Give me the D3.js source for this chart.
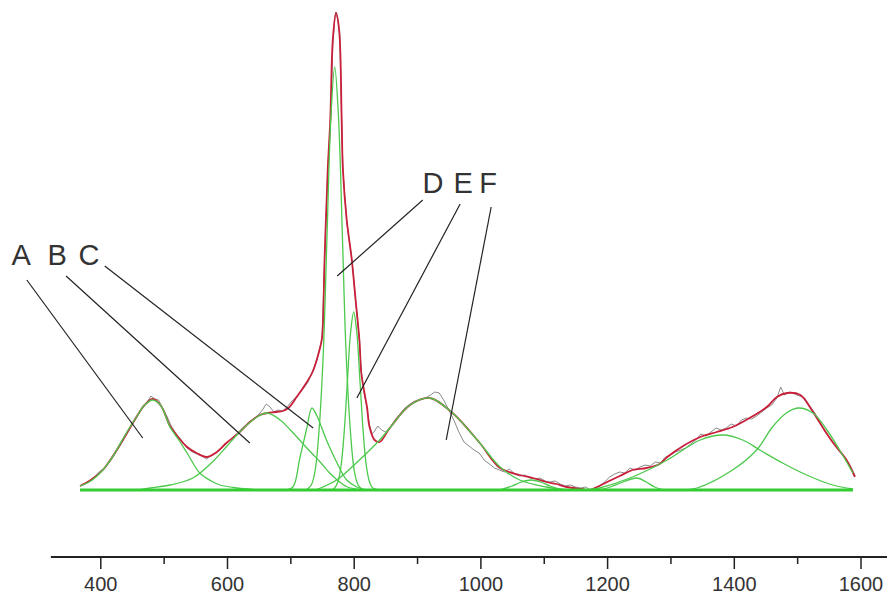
<html>
<head>
    <script src="https://d3js.org/d3.v7.min.js"></script>
    <style>
        html,body{
            margin: 0px;
            padding: 0px;
            background-color: #ffffff;
        }
        text {
            font-family: "Liberation Sans", Arial, sans-serif;
        }
    </style>
</head>
<body>
<div id="chart"></div>
<script>
    const width = 887, height = 596;

    // [wavenumber, intensity]
    const measured = [
        [368,4],[375,6],[383,9],[392,14],[400,19],[408,23],[416,29],[425,38],[433,46],[442,56],[450,65],[458,73],
        [466,82],[474,88],[480,94],[486,91],[492,90],[498,82],[505,74],[512,64],[520,56],[528,50],[537,42],[545,38],
        [553,36],[560,34],[568,31],[576,35],[584,38],[592,42],[600,47],[608,52],[616,56],[624,62],[632,66],[640,70],
        [648,74],[656,80],[662,86],[668,83],[674,78],[680,80],[688,79],[696,84],[704,90],[712,95],[720,101],[728,108],
        [735,118],[742,130],[746,141],[750,152],[754,230],[759,320],[764,372],[767,445],[770,470],[772,478],[775,470],
        [778,455],[781,370],[783,320],[789,268],[797,232],[803,190],[809,150],[812,118],[817,95],[821,82],[825,65],
        [829,56],[833,59],[838,64],[844,60],[850,58],[857,62],[865,70],[873,76],[881,82],[889,86],[897,89],[905,90],
        [913,92],[921,95],[928,98],[935,97],[942,90],[950,80],[958,70],[966,58],[974,48],[982,44],[990,40],[998,37],
        [1006,30],[1014,26],[1022,22],[1030,20],[1038,18],[1046,21],[1054,16],[1062,14],[1070,15],[1078,12],[1086,11],
        [1094,12],[1102,9],[1110,8],[1118,9],[1126,6],[1134,4],[1142,5],[1150,3],[1158,2],[1166,3],[1174,0],[1180,1],
        [1188,4],[1196,8],[1204,13],[1212,16],[1220,18],[1228,17],[1236,22],[1244,20],[1252,23],[1260,25],[1268,24],
        [1276,28],[1284,27],[1292,33],[1300,35],[1308,38],[1316,40],[1324,42],[1332,46],[1340,50],[1348,56],[1356,54],
        [1364,58],[1372,62],[1380,60],[1388,62],[1396,66],[1404,64],[1412,70],[1420,72],[1428,71],[1436,74],[1444,78],
        [1452,82],[1460,85],[1468,92],[1474,103],[1480,95],[1488,98],[1496,96],[1504,94],[1512,92],[1520,84],[1528,77],
        [1536,68],[1544,58],[1552,52],[1560,45],[1568,38],[1576,32],[1584,24],[1592,14]
    ];

    const fitted = [
        [368,4],[385,10],[404,20],[422,36],[442,57],[458,74],[470,85],[483,91],[496,84],[510,64],[524,52],[537,43],
        [552,37],[568,33],[584,38],[599,47],[620,58],[636,68],[652,75],[664,77],[676,78],[688,79],[697,82],[710,93],
        [722,104],[735,118],[746,140],[750,152],[754,230],[759,320],[763,370],[767,450],[772,477],[777,460],[781,370],
        [783,320],[789,270],[797,230],[803,190],[809,150],[812,117],[817,97],[821,83],[825,63],[833,50],[841,48],
        [857,62],[889,85],[920,92],[956,77],[999,47],[1031,22],[1062,15],[1083,12],[1104,8],[1120,6],[1136,3],
        [1160,1],[1173,0],[1184,3],[1200,8],[1220,14],[1240,20],[1262,22],[1283,26],[1295,33],[1320,44],[1347,53],
        [1373,58],[1398,63],[1425,72],[1452,83],[1468,93],[1484,97],[1505,95],[1520,83],[1536,67],[1557,47],
        [1578,30],[1591,13]
    ];

    const peakA = [[368,4],[385,9],[404,20],[422,36],[442,58],[458,74],[470,85],[483,90],[496,84],[510,63],[524,50],[537,37],[557,17],[575,9],[589,5],[616,2],[650,0]];
    const peakB = [[460,0],[479,2],[510,5],[546,12],[580,30],[600,44],[620,58],[645,72],[663,77],[684,70],[700,60],[716,49],[732,38],[747,28],[762,17],[774,10],[790,3],[820,0]];
    const peakC = [[690,0],[704,3],[715,32],[726,62],[734,82],[742,74],[757,50],[773,28],[789,10],[805,3],[820,0]];
    const peakD = [[725,0],[733,5],[739,19],[745,57],[752,137],[758,257],[764,373],[770,423],[776,373],[782,257],[788,137],[795,57],[801,19],[807,5],[815,0]];
    const peakE = [[765,0],[770,2],[775,8],[780,24],[785,58],[790,108],[795,157],[800,178],[805,157],[810,108],[815,58],[820,24],[825,8],[830,2],[840,0]];
    const peakF = [[740,0],[773,10],[809,30],[841,50],[857,62],[889,85],[920,92],[956,77],[999,47],[1031,23],[1062,10],[1104,3],[1140,0]];
    const peakG = [[1030,0],[1050,4],[1065,8],[1080,10],[1095,8],[1110,4],[1130,0]];
    const peakH = [[1185,0],[1205,3],[1225,8],[1247,12],[1262,8],[1275,3],[1290,0]];
    const peakI = [[1170,0],[1188,2],[1240,13],[1295,30],[1347,50],[1383,55],[1414,50],[1441,40],[1477,27],[1515,15],[1556,5],[1588,1]];
    const peakJ = [[1320,0],[1342,2],[1398,20],[1436,40],[1461,63],[1483,77],[1501,82],[1525,77],[1547,60],[1567,40],[1588,17]];
    const components = [peakA, peakB, peakC, peakD, peakE, peakF, peakG, peakH, peakI, peakJ];

    const baseline = [[368,0],[1588,0]];
    const majorTicks = [400, 600, 800, 1000, 1200, 1400, 1600];
    const minorTicks = [500, 700, 900, 1100, 1300, 1500];
    const axisExtent = [322, 1645];

    // label letters with their leader lines, in data units
    const callouts = [
        {label: "A", at: [275, 225], from: [284, 210], to: [467, 52]},
        {label: "B", at: [332, 225], from: [346, 214], to: [636, 47]},
        {label: "C", at: [382, 225], from: [407, 224], to: [736, 62]},
        {label: "D", at: [925, 297], from: [909, 290], to: [774, 214]},
        {label: "E", at: [973, 297], from: [968, 286], to: [805, 92]},
        {label: "F", at: [1012, 297], from: [1017, 283], to: [946, 50]}
    ];

    const x = d3.scaleLinear().domain([400, 1600]).range([100.3, 860.5]);
    const y = d3.scaleLinear().domain([0, 480]).range([490, 10]);

    const svg = d3.select("#chart")
        .append("svg")
        .attr("width", width)
        .attr("height", height);

    const smooth = d3.line()
        .x(d => x(d[0]))
        .y(d => y(d[1]))
        .curve(d3.curveCatmullRom.alpha(0.5));
    const jagged = d3.line()
        .x(d => x(d[0]))
        .y(d => y(d[1]));

    // measured spectrum
    svg.append("path")
        .datum(measured)
        .attr("fill", "none")
        .attr("stroke", "#8a8a8a")
        .attr("stroke-width", 1)
        .attr("d", jagged);

    // cumulative fit
    svg.append("path")
        .datum(fitted)
        .attr("fill", "none")
        .attr("stroke", "#c8203a")
        .attr("stroke-width", 1.8)
        .attr("d", smooth);

    // fitted peaks
    svg.append("g")
        .selectAll("path")
        .data(components)
        .enter()
        .append("path")
        .attr("fill", "none")
        .attr("stroke", "#4cc94c")
        .attr("stroke-width", 1.3)
        .attr("d", smooth);

    svg.append("path")
        .datum(baseline)
        .attr("fill", "none")
        .attr("stroke", "#33cc33")
        .attr("stroke-width", 3)
        .attr("d", jagged);

    // leader lines + letters
    svg.append("g")
        .selectAll("line")
        .data(callouts)
        .enter()
        .append("line")
        .attr("x1", d => x(d.from[0]))
        .attr("y1", d => y(d.from[1]))
        .attr("x2", d => x(d.to[0]))
        .attr("y2", d => y(d.to[1]))
        .attr("stroke", "#222")
        .attr("stroke-width", 1.2);

    svg.append("g")
        .selectAll("text")
        .data(callouts)
        .enter()
        .append("text")
        .attr("x", d => x(d.at[0]))
        .attr("y", d => y(d.at[1]))
        .attr("text-anchor", "middle")
        .attr("font-size", 29)
        .attr("fill", "#333")
        .text(d => d.label);

    // x axis, drawn well below the spectrum baseline
    const axisY = 557;
    const axisG = svg.append("g")
        .attr("transform", "translate(0," + axisY + ")");

    axisG.append("g")
        .call(d3.axisBottom(x).tickValues(minorTicks).tickSize(7).tickFormat(""));
    axisG.append("g")
        .call(d3.axisBottom(x).tickValues(majorTicks).tickSize(12).tickPadding(8).tickFormat(d3.format("d")));

    axisG.selectAll(".domain").remove();
    axisG.selectAll(".tick line").attr("stroke", "#222").attr("stroke-width", 1.5);
    axisG.selectAll(".tick text")
        .attr("font-size", 20)
        .attr("fill", "#333")
        .style("font-family", "'Liberation Sans', Arial, sans-serif");

    axisG.append("line")
        .attr("x1", x(axisExtent[0]))
        .attr("x2", x(axisExtent[1]))
        .attr("stroke", "#222")
        .attr("stroke-width", 2);
</script>
</body>
</html>
